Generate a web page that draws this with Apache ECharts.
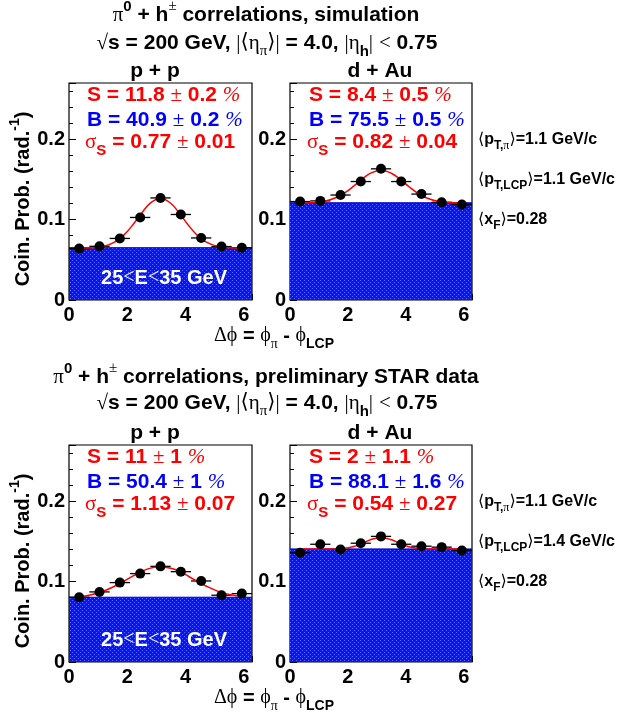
<!DOCTYPE html>
<html><head><meta charset="utf-8">
<script src="https://cdn.jsdelivr.net/npm/echarts@6/dist/echarts.min.js"></script>
<style>html,body{margin:0;padding:0;background:#fff}#c{width:634px;height:713px}</style>
</head><body><div id="c"></div>
<script>
// ---- data ----
const binCenters = [0.349, 1.047, 1.745, 2.443, 3.142, 3.840, 4.538, 5.236, 5.934];
const binHalfWidth = 0.349;
const simPP   = [0.0640, 0.0668, 0.0766, 0.1027, 0.1270, 0.1064, 0.0772, 0.0665, 0.0650];
const simDAu  = [0.1225, 0.1233, 0.1306, 0.1474, 0.1632, 0.1474, 0.1318, 0.1216, 0.1188];
const dataPP  = [0.0806, 0.0872, 0.0988, 0.1100, 0.1190, 0.1124, 0.1008, 0.0831, 0.0851];
const dataDAu = [0.1359, 0.1465, 0.1400, 0.1478, 0.1563, 0.1465, 0.1441, 0.1429, 0.1388];
const backgrounds = [0.0651, 0.1210, 0.0806, 0.1407];
const fitX       = [0.35, 0.8, 1.2, 1.6, 1.9, 2.2, 2.5, 2.8, 3.14, 3.5, 3.8, 4.1, 4.4, 4.7, 5.1, 5.5, 5.93];
const fitSimPP   = [0.0644, 0.0649, 0.0669, 0.0727, 0.0813, 0.0939, 0.1084, 0.1208, 0.1266, 0.1201, 0.1075, 0.0930, 0.0806, 0.0723, 0.0667, 0.0649, 0.0644];
const fitSimDAu  = [0.1206, 0.1212, 0.1230, 0.1276, 0.1336, 0.1417, 0.1507, 0.1581, 0.1615, 0.1577, 0.1501, 0.1412, 0.1331, 0.1272, 0.1228, 0.1212, 0.1206];
const fitDataPP  = [0.0813, 0.0841, 0.0884, 0.0949, 0.1008, 0.1071, 0.1127, 0.1168, 0.1185, 0.1166, 0.1124, 0.1067, 0.1004, 0.0946, 0.0882, 0.0839, 0.0813];
const fitDataDAu = [0.1405, 0.1405, 0.1405, 0.1407, 0.1415, 0.1437, 0.1477, 0.1524, 0.1550, 0.1521, 0.1474, 0.1435, 0.1415, 0.1407, 0.1405, 0.1405, 0.1405];
const xTicks = [0, 2, 4, 6];
const yTicks = [0, 0.1, 0.2];
const xMax = 6.2832, yMax = 0.27;

const panels = [
  {pts: simPP, fit: fitSimPP, bg: backgrounds[0]},
  {pts: simDAu, fit: fitSimDAu, bg: backgrounds[1]},
  {pts: dataPP, fit: fitDataPP, bg: backgrounds[2]},
  {pts: dataDAu, fit: fitDataDAu, bg: backgrounds[3]}
];

const SANS = '"Liberation Sans", Arial, Helvetica, sans-serif';
const SERIF = '"Liberation Serif", "DejaVu Serif", serif';

// dotted blue fill pattern
const pc = document.createElement('canvas');
pc.width = 4; pc.height = 4;
const pctx = pc.getContext('2d');
pctx.fillStyle = '#0a14f5'; pctx.fillRect(0, 0, 4, 4);
pctx.fillStyle = '#5a6cff'; pctx.fillRect(0, 0, 1, 1); pctx.fillRect(2, 2, 1, 1);

const grids = [
  {left: 69, top: 83, width: 183, height: 217},
  {left: 290, top: 83, width: 182, height: 217},
  {left: 69, top: 445, width: 183, height: 217},
  {left: 290, top: 445, width: 182, height: 217}
].map(g => Object.assign(g, {show: true, borderColor: '#000', borderWidth: 1.2, backgroundColor: '#fff', containLabel: false}));

const xAxes = [], yAxes = [], series = [];
panels.forEach((p, i) => {
  xAxes.push({
    gridIndex: i, type: 'value', min: 0, max: xMax, interval: 2,
    axisLine: {show: false}, splitLine: {show: false},
    axisTick: {inside: true, length: 6, lineStyle: {color: '#000'}},
    axisLabel: {color: '#000', fontSize: 20, fontWeight: 'bold', fontFamily: SANS, margin: 5,
      formatter: v => xTicks.some(t => Math.abs(t - v) < 1e-6) ? String(Math.round(v)) : ''}
  });
  yAxes.push({
    gridIndex: i, type: 'value', min: 0, max: yMax, interval: 0.1, position: 'left',
    axisLine: {show: false}, splitLine: {show: false},
    axisTick: {inside: true, length: 7, lineStyle: {color: '#000'}},
    axisLabel: {color: '#000', fontSize: 20, fontWeight: 'bold', fontFamily: SANS, margin: 4,
      formatter: v => { const t = yTicks.find(t => Math.abs(t - v) < 1e-6); return t === undefined ? '' : (t === 0 ? '0' : t.toFixed(1)); }}
  });
  yAxes.push({
    gridIndex: i, type: 'value', min: 0, max: yMax, interval: 0.02, position: 'left',
    axisLine: {show: false}, splitLine: {show: false},
    axisTick: {inside: true, length: 4, lineStyle: {color: '#000'}},
    axisLabel: {show: false}
  });
  series.push({
    type: 'line', xAxisIndex: i, yAxisIndex: 2 * i, silent: true, z: 1,
    data: [[0, p.bg], [xMax, p.bg]], symbol: 'none',
    lineStyle: {color: '#0000c8', width: 1},
    areaStyle: {color: {image: pc, repeat: 'repeat'}, opacity: 1}
  });
  series.push({
    type: 'custom', xAxisIndex: i, yAxisIndex: 2 * i, z: 3, silent: true,
    data: binCenters.map((x, k) => [x, p.pts[k]]),
    renderItem: (params, api) => {
      const x = api.value(0), y = api.value(1);
      const a = api.coord([x - binHalfWidth, y]), b = api.coord([x + binHalfWidth, y]);
      return {type: 'line', shape: {x1: a[0], y1: a[1], x2: b[0], y2: b[1]}, style: {stroke: '#000', lineWidth: 1.3}};
    }
  });
  series.push({
    type: 'line', xAxisIndex: i, yAxisIndex: 2 * i, z: 4, silent: true,
    data: fitX.map((x, k) => [x, p.fit[k]]), symbol: 'none', smooth: 0.4,
    lineStyle: {color: '#ff0000', width: 1.5}
  });
  series.push({
    type: 'scatter', xAxisIndex: i, yAxisIndex: 2 * i, z: 5, silent: true,
    data: binCenters.map((x, k) => [x, p.pts[k]]), symbol: 'circle', symbolSize: 10,
    itemStyle: {color: '#000', opacity: 1}
  });
});

function rich(size, color, subFrac) {
  const lh = Math.round(size * 1.5);
  const s = Math.round(size * (subFrac || 0.7));
  const b = {fill: color, color: color, lineHeight: lh};
  return {
    n:   Object.assign({}, b, {fontFamily: SANS, fontWeight: 'bold', fontSize: size, verticalAlign: 'middle'}),
    g:   Object.assign({}, b, {fontFamily: SERIF, fontWeight: 'normal', fontSize: size, verticalAlign: 'middle'}),
    p:   Object.assign({}, b, {fontFamily: SERIF, fontWeight: 'normal', fontStyle: 'italic', fontSize: size, verticalAlign: 'middle'}),
    a:   Object.assign({}, b, {fontFamily: '"DejaVu Sans", sans-serif', fontWeight: 'normal', fontSize: size, verticalAlign: 'middle'}),
    sb:  Object.assign({}, b, {fontFamily: SANS, fontWeight: 'bold', fontSize: s, verticalAlign: 'bottom'}),
    sbg: Object.assign({}, b, {fontFamily: SERIF, fontWeight: 'normal', fontSize: s, verticalAlign: 'bottom'}),
    sp:  Object.assign({}, b, {fontFamily: SANS, fontWeight: 'bold', fontSize: s, verticalAlign: 'top'}),
    spg: Object.assign({}, b, {fontFamily: SERIF, fontWeight: 'normal', fontSize: s, verticalAlign: 'top'})
  };
}
function txt(text, x, y, size, color, align, rot, subFrac) {
  return {type: 'text', x: x, y: y, z: 100, rotation: rot || 0, silent: true,
    style: {text: text, rich: rich(size, color, subFrac), align: align || 'center', verticalAlign: 'middle',
      fontFamily: SANS, fontWeight: 'bold', fontSize: size, fill: color}};
}

const RED = '#ff0000', BLUE = '#0000ff', BLK = '#000';
const title2 = '{g|√}{n|s = 200 GeV, }{g||}{a|⟨}{g|η}{sbg|π}{a|⟩}{g||}{n| = 4.0, }{g||}{g|η}{sb|h}{g||}{n| }{g|<}{n| 0.75}';
const dphi = '{g|Δϕ}{n| = }{g|ϕ}{sbg|π}{n| - }{g|ϕ}{sb|LCP}';
const ytitle = '{n|Coin. Prob. (rad.}{sp|-1}{n|)}';
const energy = '{n|25}{g|<}{n|E}{g|<}{n|35 GeV}';
function pane(S, B, sig) {
  return [
    '{n|S = ' + S[0] + ' }{g|±}{n| ' + S[1] + ' }{p|%}',
    '{n|B = ' + B[0] + ' }{g|±}{n| ' + B[1] + ' }{p|%}',
    '{g|σ}{sb|S}{n| = ' + sig[0] + ' }{g|±}{n| ' + sig[1] + '}'
  ];
}
const g = [];
function section(dy, t1, texts, pt2) {
  const top = 83 + dy;
  g.push(txt(t1, 266, 15 + dy, 21, BLK));
  g.push(txt(title2, 267, 43 + dy - (dy ? 2 : 0), 21, BLK));
  g.push(txt('{n|p + p}', 155, 71 + dy, 21, BLK));
  g.push(txt('{n|d + Au}', 380, 71 + dy, 21, BLK));
  g.push(txt(dphi, 274, 336 + dy, 20, BLK));
  g.push(txt(ytitle, 23, 199 + dy, 20, BLK, 'center', Math.PI / 2));
  g.push(txt(energy, 164, 278 + dy, 20, '#fff'));
  [[87, 0], [309, 1]].forEach(([x0, k]) => {
    const t = texts[k];
    g.push(txt(t[0], x0, top + 12, 21, RED, 'left'));
    g.push(txt(t[1], x0, top + 37, 21, BLUE, 'left'));
    g.push(txt(t[2], x0 - 2, top + 59, 21, RED, 'left'));
  });
  g.push(txt('{a|⟨}{n|p}{sb|T,}{sbg|π}{a|⟩}{n|=1.1 GeV/c}', 478, 140 + dy, 16, BLK, 'left', 0, 0.78));
  g.push(txt('{a|⟨}{n|p}{sb|T,LCP}{a|⟩}{n|=' + pt2 + ' GeV/c}', 478, 180 + dy, 16, BLK, 'left', 0, 0.78));
  g.push(txt('{a|⟨}{n|x}{sb|F}{a|⟩}{n|=0.28}', 478, 220 + dy, 16, BLK, 'left', 0, 0.78));
}
section(0, '{g|π}{sp|0}{n| + h}{spg|±}{n| correlations, simulation}',
  [pane(['11.8', '0.2'], ['40.9', '0.2'], ['0.77', '0.01']), pane(['8.4', '0.5'], ['75.5', '0.5'], ['0.82', '0.04'])], '1.1');
section(362, '{g|π}{sp|0}{n| + h}{spg|±}{n| correlations, preliminary STAR data}',
  [pane(['11', '1'], ['50.4', '1'], ['1.13', '0.07']), pane(['2', '1.1'], ['88.1', '1.6'], ['0.54', '0.27'])], '1.4');

const chart = echarts.init(document.getElementById('c'), null, {renderer: 'canvas'});
chart.setOption({
  animation: false,
  backgroundColor: '#fff',
  grid: grids, xAxis: xAxes, yAxis: yAxes, series: series,
  graphic: g
});
</script>
</body></html>
